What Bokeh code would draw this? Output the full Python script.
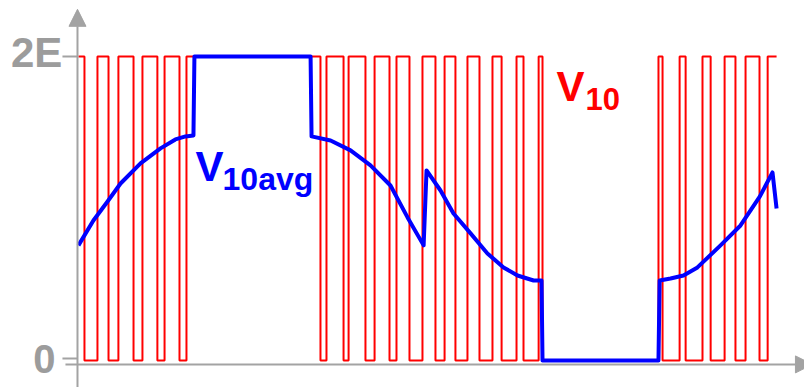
from bokeh.plotting import figure
from bokeh.models import Range1d, Arrow, NormalHead, Label
from bokeh.embed import file_html
from bokeh.resources import INLINE

# ---- data (angle in degrees, voltage in units of E) ----
red_t = [0, 3.1, 9.8, 15.5, 20.6, 28.4, 33.0, 40.7, 44.4, 52.1, 55.7,
         124.8, 127.9, 136.7, 139.3, 148.0, 152.7, 160.4, 164.0, 170.7,
         177.4, 184.1, 188.8, 194.4, 200.6, 206.8, 213.5, 218.2, 225.9,
         229.5, 237.3, 239.3, 299.1, 301.2, 310.0, 313.1, 321.8, 326.0,
         333.2, 338.8, 344.0, 351.2, 355.4, 360]
red_v = [2, 0, 2, 0, 2, 0, 2, 0, 2, 0, 2,
         0, 2, 0, 2, 0, 2, 0, 2, 0,
         2, 0, 2, 0, 2, 0, 2, 0, 2,
         0, 2, 0, 2, 0, 2, 0, 2, 0,
         2, 0, 2, 0, 2, 2]

avg_t = [0, 7.7, 15.0, 21.7, 32.0, 42.3, 50.0, 55.2, 59.3, 59.8,
         119.7, 120.2, 130.0, 140.3, 150.6, 160.9, 169.7, 178.0, 179.5,
         186.7, 193.4, 202.2, 210.9, 219.2, 226.4, 234.7, 238.8, 239.3,
         299.1, 299.7, 305.3, 312.0, 319.2, 331.1, 341.4, 351.4, 357.9, 360]
avg_v = [0.757, 0.921, 1.046, 1.164, 1.296, 1.395, 1.454, 1.474, 1.480, 2.0,
         2.0, 1.474, 1.447, 1.382, 1.283, 1.151, 0.941, 0.757, 1.25,
         1.118, 0.967, 0.836, 0.704, 0.612, 0.559, 0.526, 0.526, 0.0,
         0.0, 0.526, 0.539, 0.559, 0.612, 0.757, 0.888, 1.079, 1.237, 1.0]

y_tick_vals = [2, 0]
y_tick_labels = ["2E", "0"]

GRAY = "#a3a3a3"
LGRAY = "#9c9c9c"
RED = "#ff0000"
BLUE = "#0000ff"
FONT = "Liberation Sans"
DY = 0.11  # label baseline correction

p = figure(width=804, height=387, x_range=Range1d(-40.2, 374.4),
           y_range=Range1d(-0.178, 2.368), output_backend="svg",
           toolbar_location=None, x_axis_type=None, y_axis_type=None,
           min_border=0)
p.grid.visible = False
p.outline_line_color = None
p.background_fill_color = "white"

# axes with arrows
p.add_layout(Arrow(end=NormalHead(size=17, fill_color=GRAY, line_color=GRAY),
                   x_start=-0.5, y_start=-0.25, x_end=-0.5, y_end=2.31,
                   line_color=GRAY, line_width=2))
p.add_layout(Arrow(end=NormalHead(size=17, fill_color=GRAY, line_color=GRAY),
                   x_start=-6.7, y_start=-0.026, x_end=378.5, y_end=-0.026,
                   line_color=GRAY, line_width=2))
# tick marks
p.segment(x0=[-8.25, -8.25], y0=[2.0, 0.013], x1=[-0.5, -0.5], y1=[2.0, 0.013],
          line_color=GRAY, line_width=2)

# tick labels
p.add_layout(Label(x=-8.3, y=1.914 + DY, text=y_tick_labels[0], text_align="right",
                   text_baseline="alphabetic", text_font=FONT,
                   text_font_size="42px", text_font_style="bold",
                   text_color=LGRAY))
p.add_layout(Label(x=-11.9, y=-0.099 + DY, text=y_tick_labels[1], text_align="right",
                   text_baseline="alphabetic", text_font=FONT,
                   text_font_size="40px", text_font_style="bold",
                   text_color=LGRAY))

# waveforms
p.step(x=red_t, y=red_v, mode="after", line_color=RED, line_width=2)
p.line(x=avg_t, y=avg_v, line_color=BLUE, line_width=4, line_join="round")

# series labels
p.add_layout(Label(x=246.5, y=1.691 + DY, text="V", text_align="left",
                   text_baseline="alphabetic", text_font=FONT,
                   text_font_size="42px", text_font_style="bold",
                   text_color=RED))
p.add_layout(Label(x=261.5, y=1.612 + DY, text="10", text_align="left",
                   text_baseline="alphabetic", text_font=FONT,
                   text_font_size="31px", text_font_style="bold",
                   text_color=RED))
p.add_layout(Label(x=60.3, y=1.164 + DY, text="V", text_align="left",
                   text_baseline="alphabetic", text_font=FONT,
                   text_font_size="42px", text_font_style="bold",
                   text_color=BLUE))
p.add_layout(Label(x=74.3, y=1.086 + DY, text="10avg", text_align="left",
                   text_baseline="alphabetic", text_font=FONT,
                   text_font_size="32px", text_font_style="bold",
                   text_color=BLUE))

open("out.html", "w").write(file_html(p, INLINE))
